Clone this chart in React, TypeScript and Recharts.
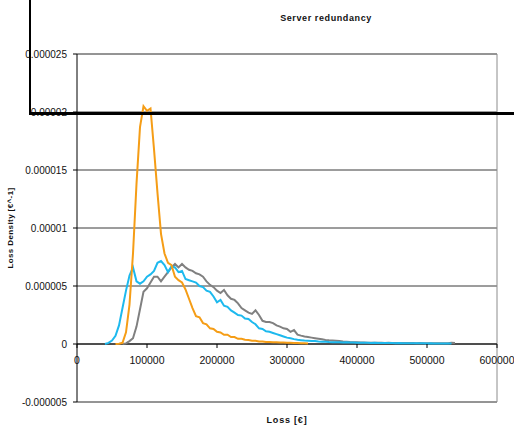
import React from "react";
import { LineChart, Line, XAxis, YAxis, CartesianGrid, ReferenceLine } from "recharts";

// Loss in thousands of €
const lossK = [
  40, 45, 50, 55, 60, 65, 70, 75, 80, 85,
  90, 95, 100, 105, 110, 115, 120, 125, 130, 135,
  140, 145, 150, 155, 160, 165, 170, 175, 180, 185,
  190, 195, 200, 205, 210, 215, 220, 225, 230, 235,
  240, 245, 250, 255, 260, 265, 270, 275, 280, 285,
  290, 295, 300, 305, 310, 315, 320, 325, 330, 335,
  340, 345, 350, 355, 360, 365, 370, 375, 380, 385,
  390, 395, 400, 405, 410, 415, 420, 425, 430, 435,
  440, 445, 450, 455, 460, 465, 470, 475, 480, 485,
  490, 495, 500, 505, 510, 515, 520, 525, 530, 535,
  540,
];

// Loss density in units of 1e-6 €^-1
const grayDensity = [
  null, null, null, null, null, 0, 0.05, 0.25, 0.5, 1.5,
  3.0, 4.5, 4.8, 5.3, 5.8, 5.8, 5.4, 5.8, 6.2, 6.6,
  6.9, 6.6, 6.9, 6.6, 6.4, 6.3, 6.1, 6.0, 5.8, 5.4,
  5.1, 4.9, 4.6, 4.4, 4.65, 4.2, 3.9, 3.8, 3.5, 3.1,
  2.9, 2.7, 2.6, 2.9, 2.5, 2.0, 1.9, 1.9, 1.8, 1.6,
  1.5, 1.35, 1.3, 1.05, 1.2, 0.8, 0.72, 0.65, 0.6, 0.55,
  0.5, 0.45, 0.4, 0.35, 0.32, 0.3, 0.28, 0.26, 0.22, 0.2,
  0.17, 0.15, 0.15, 0.13, 0.12, 0.11, 0.1, 0.11, 0.1, 0.1,
  0.09, 0.1, 0.09, 0.09, 0.08, 0.09, 0.08, 0.08, 0.08, 0.07,
  0.08, 0.07, 0.07, 0.07, 0.06, 0.07, 0.06, 0.06, 0.07, 0.1,
  0.08,
];

const cyanDensity = [
  0, 0.1, 0.3, 0.7, 1.6, 3.1, 4.6, 5.9, 6.6, 5.4,
  5.2, 5.4, 5.8, 6.0, 6.3, 7.0, 7.15, 6.8, 6.2, 6.7,
  6.6, 6.2, 6.3, 5.6, 5.5, 5.4, 5.3, 5.0, 4.9, 4.6,
  4.5, 4.1, 3.6, 3.8, 3.3, 3.2, 2.9, 2.7, 2.5, 2.45,
  2.2, 2.15, 1.9, 1.7, 1.35, 1.3, 1.1, 1.05, 0.95, 0.85,
  0.75, 0.65, 0.55, 0.5, 0.42, 0.36, 0.33, 0.3, 0.28, 0.26,
  0.25, 0.22, 0.2, 0.2, 0.17, 0.16, 0.15, 0.15, 0.13, 0.14,
  0.12, 0.12, 0.11, 0.1, 0.11, 0.1, 0.09, 0.1, 0.09, 0.08,
  0.09, 0.08, 0.08, 0.07, 0.08, 0.07, 0.07, 0.06, 0.07, 0.06,
  0.06, 0.06, 0.05, 0.06, 0.05, 0.05, 0.05, 0.04, 0.05, 0.04,
  null,
];

const orangeDensity = [
  null, null, null, 0, 0.03, 0.1, 1.0, 3.4, 7.8, 13.8,
  18.7, 20.5, 20.1, 20.3, 16.8, 13.0, 9.5, 7.8, 7.0, 6.8,
  5.8, 5.5, 5.3, 4.7, 3.9, 3.1, 2.4, 2.3, 1.8, 1.7,
  1.35, 1.3, 1.05, 1.0, 0.8, 0.8, 0.6, 0.6, 0.45, 0.45,
  0.36, 0.35, 0.28, 0.27, 0.22, 0.21, 0.18, 0.18, 0.15, 0.16,
  0.13, 0.13, 0.1, 0.11, 0.08, 0.08, 0.06, 0.07, 0.05, null,
];

const yTicks = [-5, 0, 5, 10, 15, 20, 25];
const yTickLabels = ["-0.000005", "0", "0.000005", "0.00001", "0.000015", "0.00002", "0.000025"];
const xTicks = [0, 100000, 200000, 300000, 400000, 500000, 600000];
const xTickLabels = ["0", "100000", "200000", "300000", "400000", "500000", "600000"];

const titleText = "Server redundancy";
const xLabelText = "Loss [€]";
const yLabelText = "Loss Density [€^-1]";

const data = lossK.map((k, i) => ({
  loss: k * 1000,
  gray: grayDensity[i] ?? null,
  cyan: cyanDensity[i] ?? null,
  orange: orangeDensity[i] ?? null,
}));

const FONT = "'Liberation Sans', Arial, Helvetica, sans-serif";

const XTick = (props: any) => {
  const { x, y, payload } = props;
  const i = xTicks.indexOf(payload.value);
  return (
    <g>
      <line x1={x} x2={x} y1={y - 58} y2={y - 54} stroke="#000" strokeWidth={1} />
      <text
        x={x}
        y={y - 42}
        textAnchor="middle"
        dominantBaseline="central"
        fontSize={10.5}
        fill="#111"
        fontFamily={FONT}
      >
        {xTickLabels[i]}
      </text>
    </g>
  );
};

export default function App() {
  return (
    <div style={{ position: "absolute", left: 0, top: 0, width: 514, height: 427, background: "#fff" }}>
      <LineChart
        width={514}
        height={427}
        data={data}
        margin={{ top: 54, right: 17, bottom: 0, left: 0 }}
      >
        <CartesianGrid horizontal={true} vertical={false} stroke="#3a3a3a" strokeWidth={1} />
        <XAxis
          dataKey="loss"
          type="number"
          domain={[0, 600000]}
          ticks={xTicks}
          interval={0}
          height={25}
          axisLine={false}
          tickLine={false}
          tickSize={0}
          tickMargin={0}
          tick={<XTick />}
          allowDataOverflow
        />
        <YAxis
          type="number"
          domain={[-5, 25]}
          ticks={yTicks}
          interval={0}
          width={77}
          axisLine={{ stroke: "#000", strokeWidth: 1 }}
          tickLine={{ stroke: "#000", strokeWidth: 1 }}
          tickSize={4}
          tickMargin={6}
          tick={{ fontSize: 10, fill: "#111", fontFamily: FONT }}
          tickFormatter={(v: number) => yTickLabels[yTicks.indexOf(v)]}
          allowDataOverflow
        />
        <ReferenceLine y={25} stroke="#8c8c8c" strokeWidth={1} ifOverflow="extendDomain" />
        <ReferenceLine y={-5} stroke="#8c8c8c" strokeWidth={1} ifOverflow="extendDomain" />
        <ReferenceLine x={600000} stroke="#8c8c8c" strokeWidth={1} ifOverflow="extendDomain" />
        <ReferenceLine y={0} stroke="#000" strokeWidth={1} />
        <Line
          type="linear"
          dataKey="gray"
          stroke="#808080"
          strokeWidth={2}
          dot={false}
          isAnimationActive={false}
          connectNulls={false}
        />
        <Line
          type="linear"
          dataKey="cyan"
          stroke="#1DB9EE"
          strokeWidth={2}
          dot={false}
          isAnimationActive={false}
          connectNulls={false}
        />
        <Line
          type="linear"
          dataKey="orange"
          stroke="#F59D16"
          strokeWidth={2}
          dot={false}
          isAnimationActive={false}
          connectNulls={false}
        />
      </LineChart>
      <svg
        width={514}
        height={427}
        style={{ position: "absolute", left: 0, top: 0, pointerEvents: "none" }}
      >
        <text
          x={326}
          y={18}
          textAnchor="middle"
          dominantBaseline="central"
          fontSize={9}
          fontWeight="bold"
          letterSpacing={0.6}
          fill="#111"
          fontFamily={FONT}
        >
          {titleText}
        </text>
        <text
          x={287}
          y={420}
          textAnchor="middle"
          dominantBaseline="central"
          fontSize={9}
          fontWeight="bold"
          letterSpacing={0.8}
          fill="#111"
          fontFamily={FONT}
        >
          {xLabelText}
        </text>
        <text
          x={10}
          y={228}
          textAnchor="middle"
          dominantBaseline="central"
          fontSize={8}
          fontWeight="bold"
          letterSpacing={0.4}
          fill="#111"
          fontFamily={FONT}
          transform="rotate(-90 10 228)"
        >
          {yLabelText}
        </text>
      </svg>
      <div style={{ position: "absolute", left: 29, top: 0, width: 2, height: 115, background: "#000" }} />
      <div style={{ position: "absolute", left: 29, top: 112, width: 485, height: 3, background: "#000" }} />
    </div>
  );
}
